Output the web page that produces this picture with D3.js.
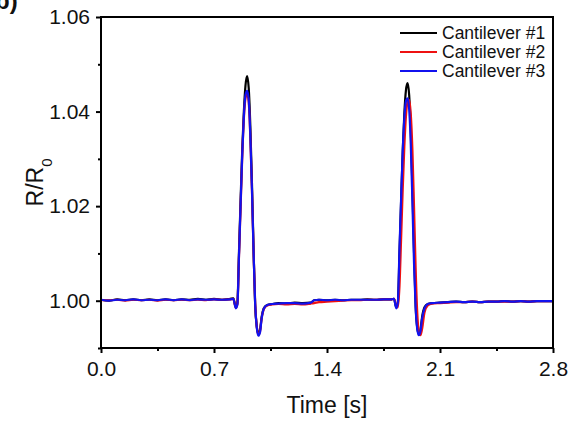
<!DOCTYPE html>
<html>
<head>
<meta charset="utf-8">
<script src="https://cdn.jsdelivr.net/npm/d3@7"></script>
<style>
  html, body { margin: 0; padding: 0; background: #fff; }
  svg { display: block; }
  text { font-family: Arial, "Liberation Sans", sans-serif; fill: #111; }
</style>
</head>
<body>
<div id="chart"></div>
<script>
// ---------------- data ----------------
const time = [
  0.00, 0.05, 0.10, 0.15, 0.20, 0.25, 0.30, 0.35, 0.40, 0.45,
  0.50, 0.55, 0.60, 0.65, 0.70, 0.75, 0.80, 0.82, 0.835, 0.845,
  0.855, 0.865, 0.875, 0.885, 0.895, 0.905, 0.915, 0.925, 0.935, 0.945,
  0.955, 0.965, 0.975, 0.985, 0.995, 1.010, 1.030, 1.06, 1.10, 1.15,
  1.20, 1.25, 1.30, 1.32, 1.35, 1.40, 1.45, 1.50, 1.55, 1.60,
  1.65, 1.70, 1.75, 1.80, 1.815, 1.829, 1.839, 1.849, 1.859, 1.869,
  1.879, 1.889, 1.899, 1.909, 1.919, 1.929, 1.939, 1.949, 1.959, 1.969,
  1.979, 1.989, 2.004, 2.024, 2.05, 2.10, 2.15, 2.20, 2.25, 2.30,
  2.35, 2.40, 2.45, 2.50, 2.55, 2.60, 2.65, 2.70, 2.75, 2.80
];
const cantilever1 = [
  1.0002, 1.0000, 1.0003, 1.0001, 1.0003, 1.0001, 1.0003, 1.0001, 1.0003, 1.0001,
  1.0003, 1.0002, 1.0004, 1.0002, 1.0004, 1.0002, 1.0004, 1.0005, 0.9986, 0.9996,
  1.0105, 1.0215, 1.0320, 1.0400, 1.0455, 1.0475, 1.0450, 1.0370, 1.0250, 1.0110,
  0.9990, 0.9945, 0.9930, 0.9938, 0.9965, 0.9985, 0.9991, 0.9993, 0.9995, 0.9994,
  0.9996, 0.9995, 0.9996, 1.0001, 1.0002, 1.0001, 1.0002, 1.0001, 1.0002, 1.0002,
  1.0003, 1.0002, 1.0003, 1.0003, 1.0004, 0.9986, 0.9996, 1.0100, 1.0210, 1.0315,
  1.0395, 1.0445, 1.0460, 1.0435, 1.0360, 1.0240, 1.0105, 0.9990, 0.9943, 0.9929,
  0.9938, 0.9965, 0.9986, 0.9993, 0.9995, 0.9996, 0.9997, 0.9998, 0.9997, 0.9998,
  0.9997, 0.9998, 0.9998, 0.9999, 0.9998, 0.9999, 0.9998, 0.9999, 0.9999, 0.9999
];
const cantilever2 = [
  1.0001, 1.0001, 1.0002, 1.0000, 1.0002, 1.0001, 1.0002, 1.0000, 1.0002, 1.0001,
  1.0002, 1.0001, 1.0002, 1.0001, 1.0003, 1.0002, 1.0003, 1.0004, 0.9985, 0.9993,
  1.0095, 1.0200, 1.0305, 1.0385, 1.0428, 1.0438, 1.0420, 1.0345, 1.0235, 1.0105,
  0.9995, 0.9945, 0.9928, 0.9935, 0.9962, 0.9983, 0.9990, 0.9992, 0.9993, 0.9992,
  0.9993, 0.9992, 0.9994, 0.9995, 0.9997, 0.9998, 0.9999, 1.0000, 1.0001, 1.0001,
  1.0002, 1.0002, 1.0003, 1.0003, 1.0004, 0.9990, 0.9986, 1.0030, 1.0130, 1.0235,
  1.0325, 1.0390, 1.0420, 1.0425, 1.0395, 1.0320, 1.0200, 1.0070, 0.9975, 0.9935,
  0.9927, 0.9940, 0.9975, 0.9990, 0.9994, 0.9995, 0.9996, 0.9997, 0.9997, 0.9998,
  0.9997, 0.9998, 0.9998, 0.9998, 0.9998, 0.9999, 0.9998, 0.9999, 0.9999, 0.9999
];
const cantilever3 = [
  1.0002, 1.0000, 1.0002, 1.0001, 1.0003, 1.0001, 1.0002, 1.0001, 1.0003, 1.0001,
  1.0003, 1.0001, 1.0003, 1.0002, 1.0003, 1.0002, 1.0003, 1.0004, 0.9984, 0.9992,
  1.0098, 1.0205, 1.0310, 1.0390, 1.0435, 1.0444, 1.0425, 1.0350, 1.0238, 1.0105,
  0.9993, 0.9943, 0.9926, 0.9933, 0.9962, 0.9984, 0.9991, 0.9993, 0.9994, 0.9995,
  0.9995, 0.9994, 0.9996, 1.0001, 1.0002, 1.0001, 1.0002, 1.0001, 1.0002, 1.0002,
  1.0002, 1.0002, 1.0003, 1.0003, 1.0004, 0.9984, 0.9996, 1.0110, 1.0215, 1.0315,
  1.0385, 1.0422, 1.0428, 1.0405, 1.0330, 1.0210, 1.0080, 0.9985, 0.9940, 0.9927,
  0.9936, 0.9962, 0.9984, 0.9993, 0.9995, 0.9996, 0.9997, 0.9998, 0.9997, 0.9998,
  0.9997, 0.9998, 0.9998, 0.9999, 0.9998, 0.9999, 0.9998, 0.9999, 0.9999, 0.9999
];
const seriesNames = ["Cantilever #1", "Cantilever #2", "Cantilever #3"];
const seriesColors = ["#000000", "#ee1111", "#1111ee"];
const xTicks = [0.0, 0.7, 1.4, 2.1, 2.8];
const xMinorTicks = [0.35, 1.05, 1.75, 2.45];
const yTicks = [1.00, 1.02, 1.04, 1.06];
const yMinorTicks = [0.99, 1.01, 1.03, 1.05];
const xDomain = [0, 2.8];
const yDomain = [0.99, 1.06];

// ---------------- layout ----------------
const W = 579, H = 421;
const m = { left: 101, right: 26, top: 17, bottom: 73 };

const svg = d3.select("#chart").append("svg").attr("width", W).attr("height", H);

const x = d3.scaleLinear().domain(xDomain).range([m.left, W - m.right]);
const y = d3.scaleLinear().domain(yDomain).range([H - m.bottom, m.top]);

// panel label (partially cut off, as in the reference)
svg.append("text").attr("x", -5).attr("y", 9)
  .style("font-size", "24px").style("font-weight", "bold").text("b)");

// lines
const all = [cantilever1, cantilever2, cantilever3];
const line = d3.line().x((d, i) => x(time[i])).y(d => y(d)).curve(d3.curveMonotoneX);
svg.append("g").selectAll("path").data(all).join("path")
  .attr("d", d => line(d))
  .attr("fill", "none")
  .attr("stroke", (d, i) => seriesColors[i])
  .attr("stroke-width", 2.2)
  .attr("stroke-linejoin", "round");

// frame
svg.append("rect")
  .attr("x", x(xDomain[0])).attr("y", y(yDomain[1]))
  .attr("width", x(xDomain[1]) - x(xDomain[0]))
  .attr("height", y(yDomain[0]) - y(yDomain[1]))
  .attr("fill", "none").attr("stroke", "#000").attr("stroke-width", 2);

// axes
const fmtX = d3.format(".1f"), fmtY = d3.format(".2f");
const gx = svg.append("g").attr("transform", `translate(0,${y(yDomain[0])})`)
  .call(d3.axisBottom(x).tickValues(xTicks).tickFormat(fmtX).tickSize(5).tickSizeOuter(0).tickPadding(8));
const gxm = svg.append("g").attr("transform", `translate(0,${y(yDomain[0])})`)
  .call(d3.axisBottom(x).tickValues(xMinorTicks).tickFormat("").tickSize(3).tickSizeOuter(0));
const gy = svg.append("g").attr("transform", `translate(${x(xDomain[0])},0)`)
  .call(d3.axisLeft(y).tickValues(yTicks).tickFormat(fmtY).tickSize(5).tickSizeOuter(0).tickPadding(6));
const gym = svg.append("g").attr("transform", `translate(${x(xDomain[0])},0)`)
  .call(d3.axisLeft(y).tickValues(yMinorTicks).tickFormat("").tickSize(3).tickSizeOuter(0));
[gx, gxm, gy, gym].forEach(g => {
  g.select(".domain").remove();
  g.selectAll("line").attr("stroke", "#000").attr("stroke-width", 2);
  g.selectAll("text").style("font-size", "21px").attr("fill", "#111")
    .style("font-family", "Arial, 'Liberation Sans', sans-serif");
});

// axis titles
svg.append("text")
  .attr("x", (x(xDomain[0]) + x(xDomain[1])) / 2).attr("y", 413)
  .attr("text-anchor", "middle").style("font-size", "23px").text("Time [s]");

const yl = svg.append("text")
  .attr("transform", `translate(43,${(y(yDomain[0]) + y(yDomain[1])) / 2}) rotate(-90)`)
  .attr("text-anchor", "middle").style("font-size", "23px");
yl.append("tspan").text("R/R");
yl.append("tspan").attr("baseline-shift", "sub").style("font-size", "15px").text("0");

// legend
const lg = svg.append("g");
seriesNames.forEach((name, i) => {
  const yy = 33 + i * 19;
  lg.append("line").attr("x1", 400).attr("x2", 437).attr("y1", yy).attr("y2", yy)
    .attr("stroke", seriesColors[i]).attr("stroke-width", 2.2);
  lg.append("text").attr("x", 442).attr("y", yy + 6)
    .style("font-size", "17.5px").text(name);
});
</script>
</body>
</html>
